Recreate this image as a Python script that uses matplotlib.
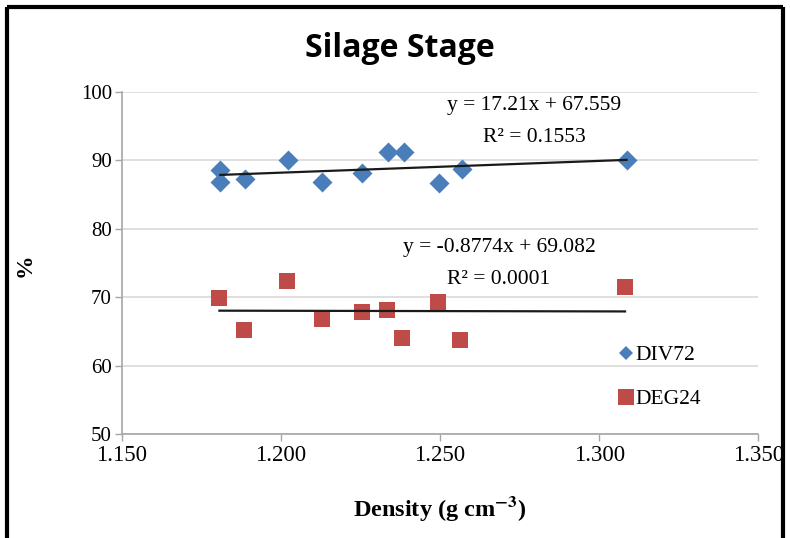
import numpy as np
import matplotlib
matplotlib.use("Agg")
import matplotlib.pyplot as plt
from matplotlib.lines import Line2D

plt.rcParams["mathtext.fontset"]="stix"

# DIV72 (%) vs density
div_density=[1.181,1.181,1.1887,1.2021,1.2128,1.2254,1.2337,1.2387,1.2497,1.2568,1.3086]
div_values=[88.6,86.9,87.3,90.0,86.8,88.1,91.2,91.2,86.7,88.7,90.0]

# DEG24 (%) vs density
deg_density=[1.1807,1.1885,1.2018,1.2128,1.2254,1.2335,1.2382,1.2494,1.2562,1.3081]
deg_values=[69.9,65.2,72.4,66.8,67.9,68.1,64.0,69.3,63.7,71.5]

# trendlines as printed on the chart
div_fit=(17.21,67.559)
deg_fit=(-0.8774,69.082)

x_ticks=[1.150,1.200,1.250,1.300,1.350]
y_ticks=[50,60,70,80,90,100]

BLUE="#4a7ebb"
RED="#be4b48"
GRID="#d9d9d9"
AXIS="#a6a6a6"
SERIF="Liberation Serif"

fig=plt.figure(figsize=(7.9,5.38),dpi=100,facecolor="white")
ax=fig.add_axes([0.154,0.193,0.806,0.636])

ax.set_xlim(1.150,1.350)
ax.set_ylim(50,100)
ax.set_xticks(x_ticks)
ax.set_yticks(y_ticks)
ax.set_xticklabels([f"{v:.3f}" for v in x_ticks],family=SERIF,fontsize=16.5)
ax.set_yticklabels([str(v) for v in y_ticks],family=SERIF,fontsize=15)
ax.tick_params(axis="both",direction="out",length=5,width=1,color=AXIS)
ax.tick_params(axis="y",pad=2)
ax.tick_params(axis="x",pad=3)

ax.grid(axis="y",color=GRID,linewidth=1.2,zorder=0)
ax.set_axisbelow(True)
for side in ["top","right"]:
    ax.spines[side].set_visible(False)
for side in ["left","bottom"]:
    ax.spines[side].set_color(AXIS)
    ax.spines[side].set_linewidth(1.2)

ax.scatter(div_density,div_values,marker="D",s=10.2**2,color=BLUE,linewidths=0,zorder=3)
ax.scatter(deg_density,deg_values,marker="s",s=12**2,color=RED,linewidths=0,zorder=3)

for xs,(m,b) in [(div_density,div_fit),(deg_density,deg_fit)]:
    xx=np.array([min(xs),max(xs)])
    ax.plot(xx,m*xx+b,color="#1a1a1a",linewidth=1.6,zorder=4)

ax.text(1.2795,98.0,"y = 17.21x + 67.559",ha="center",va="center",family=SERIF,fontsize=15.5)
ax.text(1.2795,93.3,"R² = 0.1553",ha="center",va="center",family=SERIF,fontsize=15.5)
ax.text(1.2685,77.3,"y = -0.8774x + 69.082",ha="center",va="center",family=SERIF,fontsize=15.5)
ax.text(1.2685,72.6,"R² = 0.0001",ha="center",va="center",family=SERIF,fontsize=15.5)

handles=[
    Line2D([],[],marker="D",linestyle="none",color=BLUE,markersize=7,markeredgewidth=0),
    Line2D([],[],marker="s",linestyle="none",color=RED,markersize=12,markeredgewidth=0),
]
ax.legend(handles,["DIV72","DEG24"],loc="upper left",bbox_to_anchor=(0.770,0.178,0.2,0.2),
          bbox_transform=fig.transFigure,frameon=False,handlelength=0.6,handletextpad=0.15,
          labelspacing=1.1,borderpad=0,prop={"family":SERIF,"size":15.5})

ax.set_xlabel("Density (g cm$^{\\mathbf{-3}}$)",family=SERIF,fontsize=17.5,fontweight="bold",labelpad=20)
ax.set_ylabel("%",family=SERIF,fontsize=17,fontweight="bold")
ax.yaxis.set_label_coords(-0.135,0.494)

fig.text(0.506,0.910,"Silage Stage",ha="center",va="center",family="Open Sans",
         fontsize=23,fontweight="bold")

# outer frame (top, left, right)
frame=dict(color="black",linewidth=3,solid_capstyle="butt")
fig.add_artist(Line2D([0.009,0.991],[0.987,0.987],transform=fig.transFigure,**frame))
fig.add_artist(Line2D([0.009,0.009],[0.0,0.987],transform=fig.transFigure,**frame))
fig.add_artist(Line2D([0.991,0.991],[0.0,0.987],transform=fig.transFigure,**frame))

fig.savefig("out.png",dpi=100,facecolor="white")
